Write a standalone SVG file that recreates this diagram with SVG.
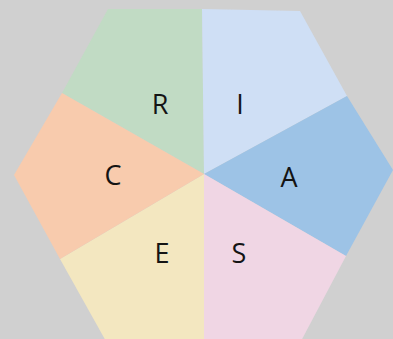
<svg xmlns="http://www.w3.org/2000/svg" width="393" height="339" viewBox="0 0 393 339">
<style>
text{font-family:"Open Sans","Liberation Sans",sans-serif;font-size:27px;fill:#141414;text-anchor:middle}
</style>
<rect width="393" height="339" fill="#d0d0d0"/>
<g id="R"><polygon points="204,174 202,9 108,9 62,93" fill="#c1dbc4"/><text x="160" y="114">R</text></g>
<g id="I"><polygon points="204,174 202,9 300,11 347,96" fill="#cfdff5"/><text x="240" y="114">I</text></g>
<g id="A"><polygon points="204,174 347,96 393,170 346,256" fill="#9dc3e6"/><text x="289" y="187">A</text></g>
<g id="S"><polygon points="204,174 346,256 300,343 204,343" fill="#f0d6e4"/><text x="239" y="263">S</text></g>
<g id="E"><polygon points="204,174 204,343 107,343 60,259" fill="#f3e7c0"/><text x="162" y="263">E</text></g>
<g id="C"><polygon points="204,174 60,259 14,175 62,93" fill="#f8cbad"/><text x="113" y="185">C</text></g>
<g id="connectors"/>
</svg>
